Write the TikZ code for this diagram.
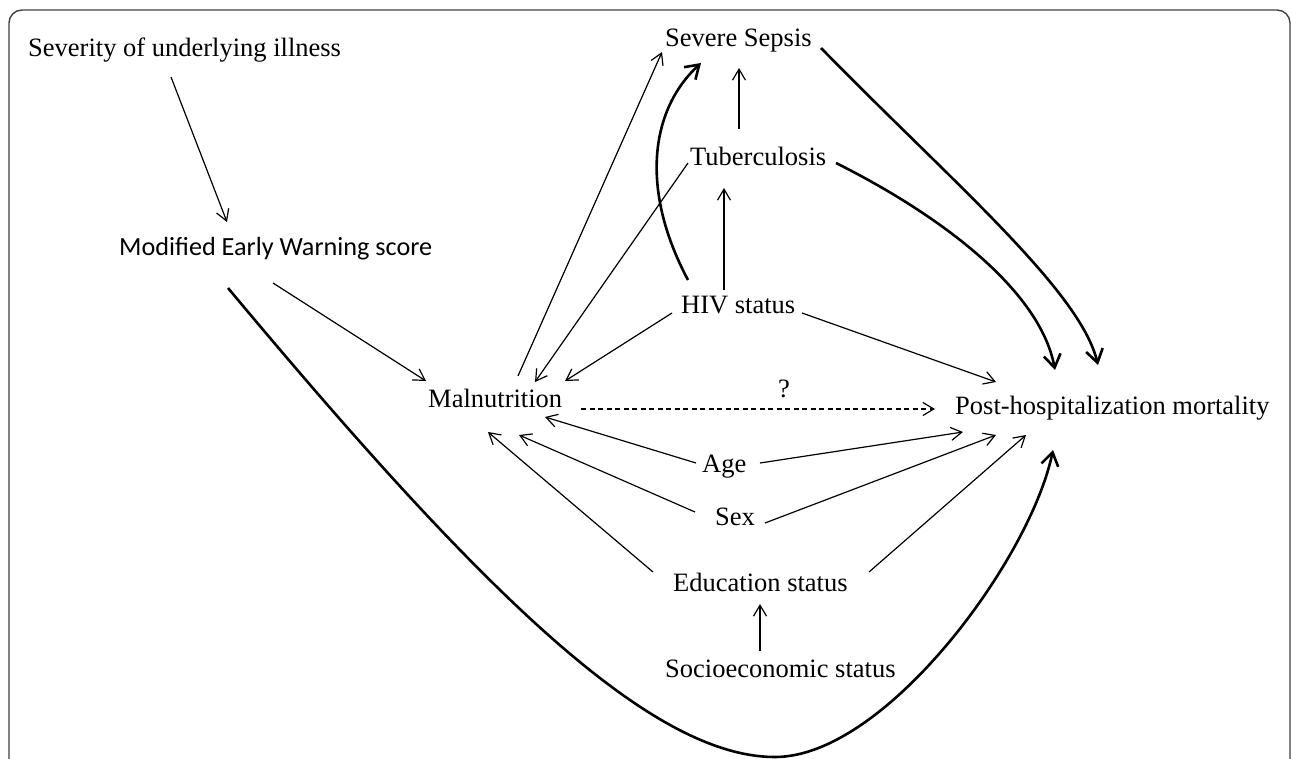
\documentclass[tikz,border=0pt]{standalone}
\usepackage{fontspec}
\setmainfont{Liberation Serif}
\newfontfamily\calib{Carlito}
\usetikzlibrary{arrows.meta}
\begin{document}
\begin{tikzpicture}[x=1pt,y=-1pt,
  lbl/.style={inner sep=0pt, anchor=base west, font=\fontsize{26.5}{30}\selectfont},
  conn/.style={line width=1.2pt, -{Straight Barb[length=11pt,width=13pt]}},
  bigconn/.style={line width=2.6pt, -{Straight Barb[length=13pt,width=17pt]}},
  frame/.style={line width=1.4pt, draw=black!75, rounded corners=13pt}]
\useasboundingbox (0,0) rectangle (1292,759);
\draw[frame] (9,820) -- (9,10) -- (1290,10) -- (1290,820);

\node[lbl] (sev) at (28,57) {Severity of underlying illness};
\node[lbl, font=\calib\fontsize{26.2}{30}\selectfont] (mews) at (119,255) {Modified Early Warning score};
\node[lbl] (sep) at (665,47) {Severe Sepsis};
\node[lbl] (tb) at (690,166) {Tuberculosis};
\node[lbl] (hiv) at (681,313) {HIV status};
\node[lbl] (mal) at (428,407) {Malnutrition};
\node[lbl] (q) at (778,397) {?};
\node[lbl] (post) at (955,414) {Post-hospitalization mortality};
\node[lbl] (age) at (702,472) {Age};
\node[lbl] (sex) at (715,525) {Sex};
\node[lbl] (edu) at (673,591) {Education status};
\node[lbl] (soc) at (665,677) {Socioeconomic status};
\coordinate (bottom) at (775,757);

\draw[conn] ([shift={(143,20)}]sev.base west) -- ([shift={(108,-33)}]mews.base west);
\draw[conn] ([shift={(154,28)}]mews.base west) -- ([shift={(-2,-26)}]mal.base west);
\draw[conn] ([shift={(90,-31)}]mal.base west) -- ([shift={(-3,5)}]sep.base west);
\draw[conn] ([shift={(-2,-3)}]tb.base west) -- ([shift={(107,-25)}]mal.base west);
\draw[conn] ([shift={(-9,0)}]hiv.base west) -- ([shift={(137,-26)}]mal.base west);
\draw[conn] ([shift={(43,-23)}]hiv.base west) -- ([shift={(34,22)}]tb.base west);
\draw[conn] ([shift={(49,-37)}]tb.base west) -- ([shift={(74,21)}]sep.base west);
\draw[conn] ([shift={(121,0)}]hiv.base west) -- ([shift={(41,-32)}]post.base west);
\draw[conn, dash pattern=on 5pt off 3.5pt] ([shift={(153,2)}]mal.base west) -- ([shift={(-20,-5)}]post.base west);
\draw[conn] ([shift={(-6,-9)}]age.base west) -- ([shift={(117,10)}]mal.base west);
\draw[conn] ([shift={(58,-9)}]age.base west) -- ([shift={(8,18)}]post.base west);
\draw[conn] ([shift={(-20,-13)}]sex.base west) -- ([shift={(91,28)}]mal.base west);
\draw[conn] ([shift={(50,-2)}]sex.base west) -- ([shift={(41,21)}]post.base west);
\draw[conn] ([shift={(-20,-19)}]edu.base west) -- ([shift={(60,25)}]mal.base west);
\draw[conn] ([shift={(196,-19)}]edu.base west) -- ([shift={(71,21)}]post.base west);
\draw[conn] ([shift={(95,-26)}]soc.base west) -- ([shift={(87,13)}]edu.base west);

\draw[bigconn] ([shift={(7,-33)}]hiv.base west) .. controls (640,190) and (650,110) .. ([shift={(36,16)}]sep.base west);
\draw[bigconn] ([shift={(146,-3)}]tb.base west) .. controls (940,215) and (1040,290) .. ([shift={(100,-44)}]post.base west);
\draw[bigconn] ([shift={(156,1)}]sep.base west) .. controls (950,180) and (1080,290) .. ([shift={(143,-49)}]post.base west);
\draw[bigconn] ([shift={(109,33)}]mews.base west) .. controls (480,590) and (650,757) .. (bottom) .. controls (885,757) and (1030,560) .. ([shift={(98,36)}]post.base west);
\end{tikzpicture}
\end{document}
